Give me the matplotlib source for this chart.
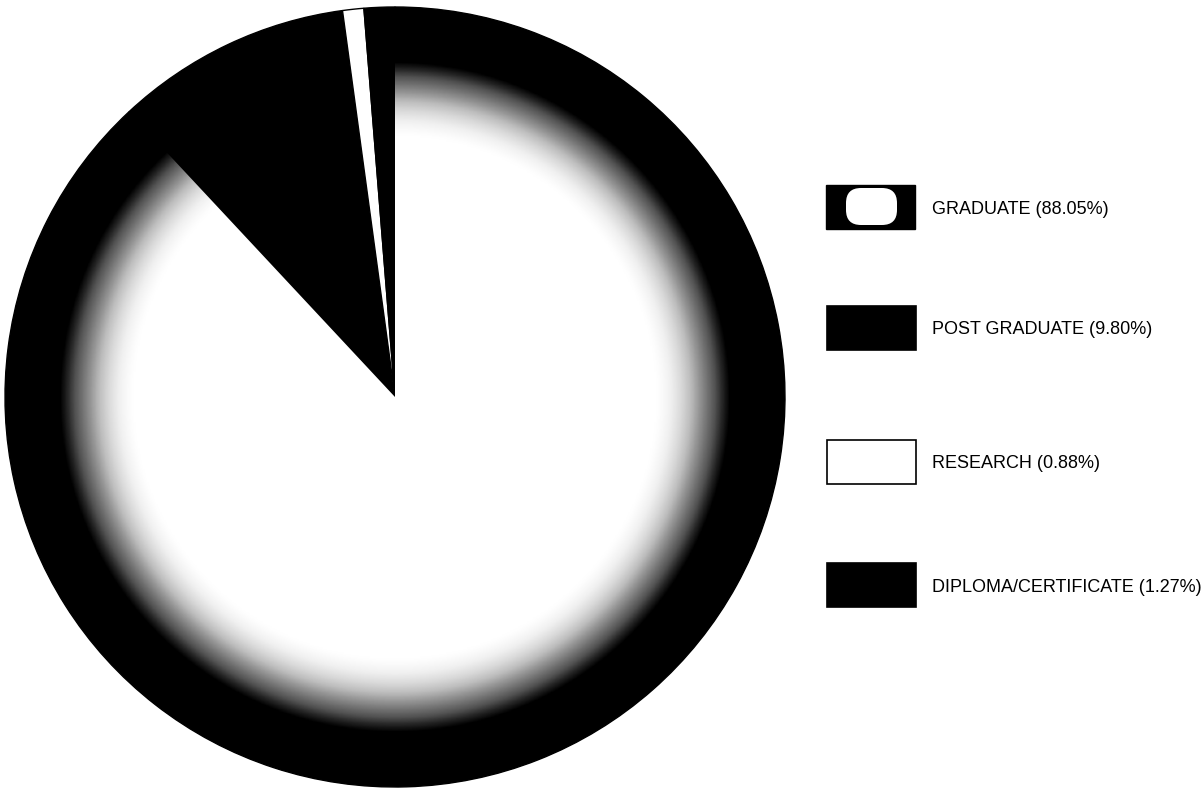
import numpy as np
import matplotlib.pyplot as plt
from matplotlib.patches import Rectangle, FancyBboxPatch

labels = ['GRADUATE', 'POST GRADUATE', 'RESEARCH', 'DIPLOMA/CERTIFICATE']
shares = [88.05, 9.80, 0.88, 1.27]
colors = ['white', 'black', 'white', 'black']

plt.rcParams['font.family'] = ['Liberation Sans Narrow', 'Liberation Sans', 'DejaVu Sans']

fig = plt.figure(figsize=(12.03, 7.96), dpi=100)
ax = fig.add_axes([0, 0, 1, 1])

cx, cy, rad = 395, 399, 390
wedges, _ = ax.pie(shares, colors=colors, startangle=90, counterclock=False,
                   center=(cx, cy), radius=rad,
                   wedgeprops=dict(edgecolor='black', linewidth=1.0))

# dark fading rim on the big white slice (as in the scanned original)
xs = np.linspace(cx - rad, cx + rad, 600)
ys = np.linspace(cy - rad, cy + rad, 600)
X, Y = np.meshgrid(xs, ys)
R = np.hypot(X - cx, Y - cy) / rad
shade = np.clip((R - 0.67) / (0.86 - 0.67), 0, 1) ** 1.3
img = ax.imshow(shade, cmap='Greys', vmin=0, vmax=1, origin='lower',
                extent=(cx - rad, cx + rad, cy - rad, cy + rad), zorder=1.5)
img.set_clip_path(wedges[0])

# legend boxes drawn by hand
H = 796
box_y = [185, 306, 440, 563]
for i, (lab, val) in enumerate(zip(labels, shares)):
    y0 = H - box_y[i] - 44
    if i == 0:
        ax.add_patch(Rectangle((826, y0), 89, 44, facecolor='black', edgecolor='black'))
        ax.add_patch(FancyBboxPatch((846, y0 + 4), 51, 37,
                                    boxstyle='round,pad=0,rounding_size=15',
                                    facecolor='white', edgecolor='none'))
    else:
        ax.add_patch(Rectangle((827, y0), 89, 44, facecolor=colors[i],
                               edgecolor='black', linewidth=1.2))
    ax.text(932, y0 + 20, f'{lab} ({val:.2f}%)', fontsize=13, va='center',
            ha='left', color='black')

ax.set_xlim(0, 1203)
ax.set_ylim(0, 796)
ax.set_aspect('equal')
ax.axis('off')

fig.savefig('out.png', dpi=100)
